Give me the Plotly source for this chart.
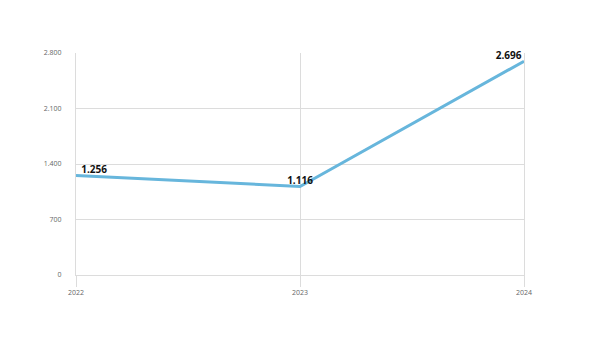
import plotly.graph_objects as go

years = [2022, 2023, 2024]
values = [1256, 1116, 2696]
label_pos = ["top right", "top center", "top left"]
label_tpl = ["<b>  %{y:,}</b>", "<b>%{y:,}</b>", "<b>%{y:,} </b>"]
y_ticks = [0, 700, 1400, 2100, 2800]

fig = go.Figure()
fig.add_trace(go.Scatter(
    x=years, y=values, mode="lines+text",
    line=dict(color="#67b6dc", width=3),
    texttemplate=label_tpl,
    textposition=label_pos,
    textfont=dict(family="Open Sans", size=10, color="#111"),
    cliponaxis=False, hoverinfo="skip",
))
fig.update_layout(
    width=600, height=339,
    margin=dict(l=76, r=76, t=53, b=64),
    paper_bgcolor="white", plot_bgcolor="white",
    separators=",.",
    showlegend=False,
    font=dict(family="Open Sans", size=7, color="#666"),
)
fig.update_xaxes(
    range=[2022, 2024], tickvals=years, ticktext=[str(y) for y in years],
    showgrid=True, gridcolor="#dcdcdc", gridwidth=1,
    showline=True, linecolor="#dcdcdc", linewidth=1,
    ticks="outside", ticklen=11, tickcolor="#dcdcdc",
    zeroline=False, tickfont=dict(size=7, color="#666"),
)
fig.update_yaxes(
    range=[0, 2800], tickvals=y_ticks, tickformat=",d",
    showgrid=True, gridcolor="#dcdcdc", gridwidth=1,
    showline=True, mirror=True, linecolor="#dcdcdc", linewidth=1,
    zeroline=False,
    ticks="outside", ticklen=12, tickcolor="rgba(0,0,0,0)",
    tickfont=dict(size=7, color="#666"),
)
fig.write_html("out.html")
